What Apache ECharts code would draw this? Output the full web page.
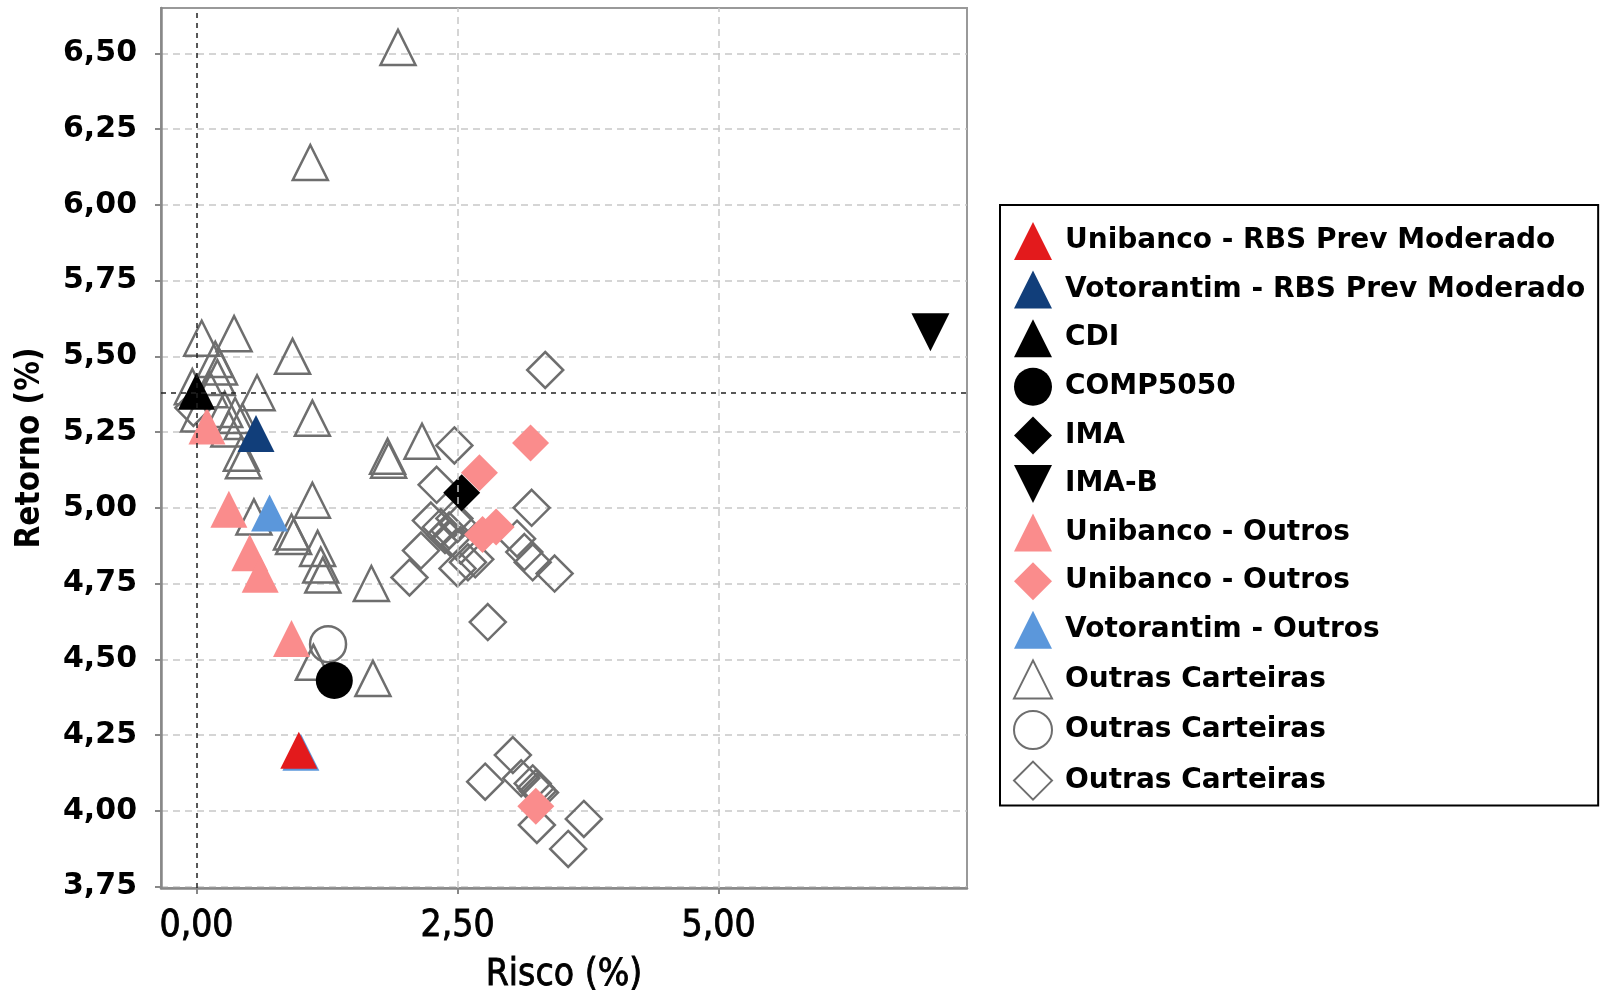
<!DOCTYPE html>
<html>
<head>
<meta charset="utf-8">
<script src="https://cdn.jsdelivr.net/npm/echarts@6/dist/echarts.min.js"></script>
<style>html,body{margin:0;padding:0;background:#fff;}#c{width:1605px;height:992px;}</style>
</head>
<body>
<div id="c"></div>
<script>
// ---- data (Risco %, Retorno %) ----
const uniRbs = [[0.98, 4.20]];
const votRbs = [[0.57, 5.245]];
const cdi = [[0.0, 5.385]];
const comp5050 = [[1.32, 4.43]];
const ima = [[2.54, 5.05]];
const imaB = [[7.03, 5.58]];
const uniOutrosTri = [[0.10, 5.27], [0.31, 4.995], [0.51, 4.852], [0.61, 4.781], [0.91, 4.569]];
const uniOutrosDia = [[2.71, 5.116], [3.20, 5.214], [2.74, 4.912], [2.87, 4.937], [3.25, 4.015]];
const votOutros = [[0.70, 4.983], [1.00, 4.193]];
const outrasTri = [
  [1.93, 6.52], [1.09, 6.14],
  [0.05, 5.56], [0.36, 5.575], [0.92, 5.50], [0.18, 5.49], [0.22, 5.465], [0.20, 5.43],
  [0.13, 5.39], [-0.04, 5.40], [0.02, 5.31], [0.27, 5.325], [0.37, 5.305], [0.44, 5.285],
  [0.31, 5.26], [0.43, 5.18], [0.45, 5.155], [0.58, 5.38], [1.11, 5.296],
  [2.16, 5.22], [1.83, 5.17], [1.84, 5.157],
  [1.675, 4.75], [1.69, 4.437],
  [1.11, 5.025], [0.55, 4.97], [0.91, 4.92], [0.93, 4.905], [1.16, 4.866], [1.19, 4.811],
  [1.21, 4.778], [1.12, 4.49]
];
const outrasCirc = [[1.26, 4.55]];
const outrasDia = [
  [2.47, 5.206], [2.30, 5.076], [3.21, 5.0], [3.34, 5.455],
  [2.245, 4.958], [2.34, 4.936], [2.42, 4.925], [2.50, 4.947], [2.44, 4.898], [2.53, 4.876],
  [2.38, 4.91], [2.47, 4.965],
  [2.15, 4.859], [2.04, 4.77], [2.50, 4.80], [2.60, 4.82], [2.67, 4.83],
  [2.79, 4.623], [3.07, 4.898], [3.22, 4.82], [3.14, 4.854], [3.43, 4.783],
  [3.03, 4.184], [2.765, 4.096], [3.11, 4.107], [3.22, 4.09], [3.25, 4.075], [3.27, 4.065],
  [3.29, 4.06], [3.26, 3.953], [3.71, 3.973], [3.56, 3.874],
  [-0.03, 5.33]
];
const refX = 0.0;      // vertical dashed reference (CDI risk)
const refY = 5.385;    // horizontal dashed reference (CDI return)
const xTicks = [0, 2.5, 5];
const yTicks = [3.75, 4.0, 4.25, 4.5, 4.75, 5.0, 5.25, 5.5, 5.75, 6.0, 6.25, 6.5];
const names = [
  'Unibanco - RBS Prev Moderado',
  'Votorantim - RBS Prev Moderado',
  'CDI',
  'COMP5050',
  'IMA',
  'IMA-B',
  'Unibanco - Outros',
  'Unibanco - Outros\u200b',
  'Votorantim - Outros',
  'Outras Carteiras',
  'Outras Carteiras\u200b',
  'Outras Carteiras\u200b\u200b'
];

const fmt = v => v.toFixed(2).replace('.', ',');
const GRAY = '#6e6e6e';
const narrow = '"Liberation Sans Narrow", "Arial Narrow", "DejaVu Sans Condensed", Roboto, sans-serif';
const gridStyle = { color: '#c8c8c8', type: [7, 5], width: 1.5 };

function filled(name, data, symbol, color, size, z) {
  return { name, type: 'scatter', data, symbol, symbolSize: size || 36, z: z || 3,
    itemStyle: { color, opacity: 1 } };
}
function outline(name, data, symbol, size) {
  return { name, type: 'scatter', data, symbol, symbolSize: size || 35, z: 2,
    itemStyle: { color: 'rgba(255,255,255,0)', borderColor: GRAY, borderWidth: 2.5, opacity: 1 } };
}

const outTri = outline(names[9], outrasTri, 'triangle', 35);
// vertical grid lines at the x ticks (except where the black reference line sits)
outTri.markLine = { silent: true, symbol: 'none', label: { show: false }, lineStyle: gridStyle,
  data: xTicks.filter(v => v !== refX).map(v => ({ xAxis: v })) };

const series = [
  outTri,
  outline(names[10], outrasCirc, 'circle', 36),
  outline(names[11], outrasDia, 'diamond', 36),
  filled(names[6], uniOutrosTri, 'triangle', '#fa8c8c', 37),
  filled(names[7], uniOutrosDia, 'diamond', '#fa8c8c', 37),
  filled(names[8], votOutros, 'triangle', '#5b97db', 37),
  filled(names[0], uniRbs, 'triangle', '#e31a1c', 37, 4),
  filled(names[1], votRbs, 'triangle', '#113e7a', 37, 4),
  filled(names[3], comp5050, 'circle', '#000', 37, 4),
  filled(names[4], ima, 'diamond', '#000', 37, 4),
  filled(names[5], imaB, 'path://M0,0L20,0L10,20Z', '#000', 38, 4),
  Object.assign(filled(names[2], cdi, 'triangle', '#000', 37, 4), {
    markLine: { silent: true, symbol: 'none', label: { show: false },
      lineStyle: { color: '#222', type: [5, 5], width: 1.5 },
      data: [{ xAxis: refX }, { yAxis: refY }] }
  })
];

const chart = echarts.init(document.getElementById('c'), null, { renderer: 'canvas' });
chart.setOption({
  animation: false,
  backgroundColor: '#fff',
  grid: { left: 161, top: 8, width: 806, height: 880, containLabel: false, outerBoundsMode: 'none',
    show: true, borderColor: '#999', borderWidth: 2, backgroundColor: 'transparent' },
  xAxis: {
    type: 'value', min: -0.34, max: 7.38,
    name: 'Risco (%)', nameLocation: 'middle', nameGap: 69,
    nameTextStyle: { fontFamily: narrow, fontSize: 37, color: '#000', textBorderColor: '#000', textBorderWidth: 0.8 },
    axisLine: { show: true, onZero: false, lineStyle: { color: '#888', width: 2.5 } },
    axisTick: { show: true, customValues: xTicks, length: 6, lineStyle: { color: '#888', width: 2 } },
    axisLabel: { customValues: xTicks, formatter: fmt, margin: 20, fontFamily: narrow, fontSize: 37, color: '#000', textBorderColor: '#000', textBorderWidth: 0.8 },
    splitLine: { show: false }
  },
  yAxis: {
    type: 'value', min: 3.745, max: 6.65,
    name: 'Retorno (%)', nameLocation: 'middle', nameGap: 114, nameRotate: 90,
    nameTextStyle: { fontFamily: narrow, fontSize: 33, fontWeight: 'bold', color: '#000' },
    axisLine: { show: true, onZero: false, lineStyle: { color: '#888', width: 2.5 } },
    axisTick: { show: true, customValues: yTicks, length: 6, lineStyle: { color: '#888', width: 2 } },
    axisLabel: { customValues: yTicks, formatter: fmt, margin: 24, padding: [6, 0, 0, 0], fontFamily: '"DejaVu Sans", sans-serif', fontWeight: 'bold', fontSize: 30, color: '#000' },
    splitLine: { show: true, lineStyle: gridStyle }
  },
  legend: {
    orient: 'vertical', left: 1000, top: 205,
    data: names,
    itemWidth: 38, itemHeight: 38, itemGap: 10.6,
    padding: [17, 13, 5, 13],
    borderColor: '#000', borderWidth: 2, backgroundColor: '#fff',
    formatter: n => n.replace(/\u200b/g, ''),
    textStyle: { fontFamily: '"DejaVu Sans", sans-serif', fontWeight: 'bold', fontSize: 28, color: '#000', padding: [0, 0, 0, 8] },
    selectedMode: false
  },
  series
});
</script>
</body>
</html>
